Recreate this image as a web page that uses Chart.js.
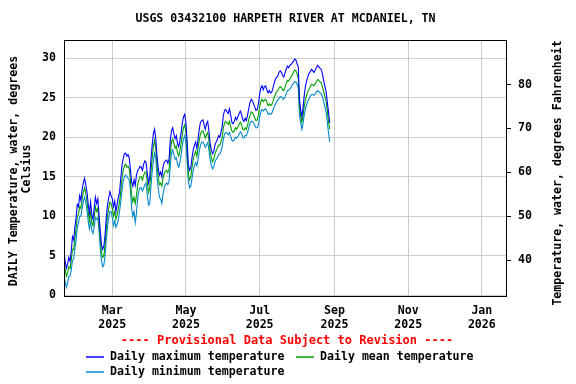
<!DOCTYPE html>
<html>
<head>
<meta charset="utf-8">
<script src="https://cdn.jsdelivr.net/npm/chart.js@4"></script>
<style>
  html, body { margin: 0; padding: 0; background: #fff; }
</style>
</head>
<body>
<canvas id="tempChart" width="576" height="384"></canvas>
<script>
// day numbers counted from 2025-01-01 (day 0)
const firstDay = 19; // 2025-01-20, first daily value
const tickDays = [59, 120, 181, 243, 304, 365];
const tickLabels = [['Mar', '2025'], ['May', '2025'], ['Jul', '2025'], ['Sep', '2025'], ['Nov', '2025'], ['Jan', '2026']];
const celsiusTicks = [0, 5, 10, 15, 20, 25, 30];
const fahrenheitTicks = [40, 50, 60, 70, 80];
const seriesColors = ['#0000ff', '#00a000', '#0088cc'];

// daily values, degrees Celsius, from 2025-01-20 to 2025-08-28
const maxTemp = [
	5.6, 4.2, 3.4, 4.0, 4.8, 4.3, 5.6, 7.4, 7.0, 8.6,
	9.8, 11.5, 11.2, 12.6, 12.0, 13.4, 14.2, 14.8, 14.0, 13.1,
	11.6, 10.4, 11.8, 10.2, 9.6, 11.0, 12.4, 11.6, 12.2, 10.1,
	8.2, 6.4, 5.8, 6.2, 7.6, 9.8, 11.4, 12.3, 13.1, 12.6,
	12.2, 11.2, 11.9, 10.6, 11.5, 12.4, 13.0, 14.8, 16.4, 17.3,
	17.9, 18.0, 17.6, 17.8, 17.4, 15.9, 14.3, 13.8, 14.6, 13.9,
	15.2, 15.8, 16.0, 16.3, 16.2, 15.8, 16.6, 17.0, 16.8, 15.4,
	14.2, 15.0, 17.2, 19.0, 20.4, 21.0, 19.8, 17.6, 16.1, 15.2,
	15.6, 15.0, 16.2, 16.8, 17.0, 17.1, 16.7, 17.2, 19.6, 20.8,
	21.2, 20.4, 19.8, 20.2, 19.2, 18.8, 19.6, 20.6, 21.8, 22.6,
	22.9, 21.8, 19.4, 16.4, 15.8, 16.2, 17.4, 18.4, 19.0, 19.4,
	18.6, 19.8, 21.0, 21.9, 22.1, 22.2, 21.6, 21.0, 21.7, 22.0,
	20.8, 19.2, 18.4, 17.9, 18.2, 19.0, 19.4, 19.7, 20.2, 20.0,
	20.6, 21.4, 22.8, 23.4, 23.5, 23.2, 23.0, 23.6, 22.8, 21.9,
	21.7, 22.0, 22.5, 22.2, 22.6, 23.0, 23.3, 22.9, 22.2, 22.0,
	22.4, 22.1, 22.8, 23.6, 24.4, 24.8, 24.6, 24.2, 23.8, 23.4,
	23.5, 24.2, 25.4, 26.2, 26.5, 26.0, 26.4, 26.5, 26.0, 25.6,
	25.9, 25.6, 25.7, 26.2, 26.8, 27.3, 27.6, 27.7, 28.2, 28.4,
	28.2, 27.8, 27.6, 28.1, 28.6, 29.0, 28.8, 29.1, 29.2, 29.4,
	29.6, 29.9, 29.8, 29.3, 28.9, 24.8, 23.4, 22.6, 23.8, 25.4,
	26.5, 27.2, 27.7, 28.1, 28.3, 28.6, 28.4, 28.2, 28.5, 28.8,
	29.1, 28.9, 28.7, 28.6, 28.0, 27.2, 26.5, 25.8, 24.5, 23.2,
	21.8
];
const meanTemp = [
	4.0, 3.2, 2.4, 2.8, 3.6, 3.4, 4.4, 5.8, 5.8, 7.2,
	8.4, 10.0, 10.2, 11.2, 11.0, 12.2, 13.0, 13.6, 13.0, 12.0,
	10.6, 9.4, 10.4, 9.2, 8.8, 9.8, 11.2, 10.6, 11.0, 9.2,
	7.2, 5.4, 4.8, 5.0, 6.4, 8.4, 10.0, 11.0, 11.8, 11.6,
	11.0, 10.0, 10.6, 9.6, 10.2, 11.0, 11.8, 13.2, 14.8, 15.8,
	16.4, 16.6, 16.2, 16.3, 16.0, 14.6, 12.6, 11.8, 12.4, 11.6,
	12.6, 14.0, 14.6, 15.0, 15.0, 14.6, 15.2, 15.6, 15.6, 14.2,
	13.0, 13.6, 15.6, 17.4, 18.8, 19.6, 18.6, 16.4, 15.0, 14.0,
	14.2, 13.8, 14.8, 15.4, 15.7, 15.8, 15.5, 15.9, 18.0, 19.4,
	19.8, 19.2, 18.6, 18.9, 18.0, 17.6, 18.3, 19.2, 20.4, 21.2,
	21.6, 20.6, 18.2, 15.2, 14.6, 15.0, 16.2, 17.2, 17.8, 18.2,
	17.6, 18.6, 19.6, 20.4, 20.7, 20.8, 20.4, 19.9, 20.3, 20.6,
	19.6, 18.2, 17.4, 16.9, 17.2, 17.9, 18.3, 18.6, 19.0, 19.0,
	19.4, 20.0, 21.2, 21.8, 22.0, 21.8, 21.6, 22.0, 21.4, 20.8,
	20.6, 20.8, 21.2, 21.0, 21.3, 21.6, 21.9, 21.6, 21.0, 20.9,
	21.2, 21.0, 21.5, 22.2, 22.8, 23.2, 23.1, 22.8, 22.4, 22.1,
	22.2, 22.8, 23.8, 24.5, 24.8, 24.5, 24.7, 24.8, 24.4, 24.0,
	24.2, 24.0, 24.1, 24.5, 25.0, 25.4, 25.7, 25.9, 26.2, 26.4,
	26.3, 26.0, 25.9, 26.3, 26.8, 27.2, 27.1, 27.4, 27.6, 27.9,
	28.2, 28.5, 28.4, 28.0, 27.4, 23.8, 22.6, 21.9, 22.8, 24.0,
	24.8, 25.4, 25.8, 26.1, 26.4, 26.7, 26.6, 26.5, 26.8, 27.0,
	27.3, 27.2, 27.0, 26.9, 26.4, 25.8, 25.2, 24.6, 23.4, 22.0,
	21.0
];
const minTemp = [
	2.6, 1.6, 1.0, 1.6, 2.4, 2.4, 3.2, 4.4, 4.6, 5.8,
	7.0, 8.6, 9.2, 10.0, 10.0, 11.0, 11.8, 12.4, 11.8, 10.8,
	9.4, 8.4, 9.2, 8.2, 7.8, 8.6, 9.8, 9.6, 9.8, 8.2,
	6.0, 4.4, 3.6, 3.8, 5.0, 7.0, 8.6, 9.8, 10.6, 10.6,
	9.8, 8.8, 9.4, 8.6, 9.0, 9.6, 10.6, 11.8, 13.2, 14.4,
	15.0, 15.2, 15.0, 14.8, 14.6, 13.4, 11.0, 10.0, 10.6, 9.2,
	10.4, 12.2, 13.2, 13.6, 13.6, 13.2, 13.6, 14.0, 14.2, 12.6,
	11.4, 11.6, 13.8, 15.6, 17.0, 18.0, 17.4, 15.0, 13.6, 12.4,
	12.2, 11.6, 12.8, 13.6, 14.0, 14.2, 14.0, 14.4, 16.4, 18.0,
	18.4, 17.8, 17.2, 17.4, 16.6, 16.2, 16.8, 17.8, 19.0, 19.8,
	20.2, 19.2, 16.8, 14.4, 13.6, 13.8, 14.8, 15.8, 16.4, 16.8,
	16.4, 17.2, 18.2, 19.0, 19.4, 19.4, 19.1, 18.7, 19.0, 19.3,
	18.4, 17.2, 16.4, 16.0, 16.2, 16.9, 17.2, 17.4, 17.8, 17.9,
	18.2, 18.8, 19.8, 20.4, 20.6, 20.5, 20.3, 20.6, 20.1, 19.6,
	19.5, 19.7, 20.0, 19.9, 20.1, 20.4, 20.7, 20.5, 20.0, 19.9,
	20.2, 20.2, 20.6, 21.2, 21.7, 22.0, 22.0, 21.8, 21.5, 21.2,
	21.2, 21.6, 22.5, 23.2, 23.5, 23.3, 23.5, 23.6, 23.3, 22.9,
	23.0, 22.9, 23.0, 23.4, 23.8, 24.2, 24.5, 24.7, 24.9, 25.1,
	25.1, 24.9, 24.8, 25.1, 25.5, 25.9, 25.9, 26.1, 26.3, 26.6,
	26.8, 27.0, 27.0, 26.7, 26.2, 22.8, 21.8, 21.0, 21.8, 22.9,
	23.6, 24.2, 24.6, 24.9, 25.2, 25.4, 25.4, 25.3, 25.5, 25.7,
	25.9, 25.8, 25.6, 25.5, 25.1, 24.5, 23.9, 23.2, 22.0, 20.6,
	19.4
];

const cMin = -0.1;
const cMax = 32.3;
const toF = c => c * 1.8 + 32;
const FONT = '"DejaVu Sans Mono", "Liberation Mono", monospace';

function toPoints(values) {
	return values.map((v, i) => ({ x: firstDay + i, y: v }));
}

// 제목, 축 제목, 범례, 테두리 그리기
const decorations = {
	id: 'decorations',
	afterDraw(chart) {
		const ctx = chart.ctx;
		const area = chart.chartArea;
		ctx.save();

		// 테두리
		ctx.strokeStyle = '#000';
		ctx.lineWidth = 1;
		ctx.strokeRect(area.left + 0.5, area.top + 0.5, area.right - area.left, area.bottom - area.top);

		ctx.fillStyle = '#000';
		ctx.font = `bold 11.6px ${FONT}`;
		ctx.textAlign = 'center';
		ctx.textBaseline = 'middle';
		ctx.fillText('USGS 03432100 HARPETH RIVER AT MCDANIEL, TN', 285.5, 19);

		// 왼쪽 축 제목
		ctx.save();
		ctx.translate(14, 171);
		ctx.rotate(-Math.PI / 2);
		ctx.fillText('DAILY Temperature, water, degrees', 0, 0);
		ctx.restore();
		ctx.save();
		ctx.translate(27, 169);
		ctx.rotate(-Math.PI / 2);
		ctx.fillText('Celsius', 0, 0);
		ctx.restore();

		// 오른쪽 축 제목
		ctx.save();
		ctx.translate(558, 173);
		ctx.rotate(-Math.PI / 2);
		ctx.fillText('Temperature, water, degrees Fahrenheit', 0, 0);
		ctx.restore();

		// 잠정 자료 안내
		ctx.fillStyle = '#ff0000';
		ctx.font = `bold 12px ${FONT}`;
		ctx.fillText('---- Provisional Data Subject to Revision ----', 287, 341);

		// 범례
		const legendItems = [
			{ label: 'Daily maximum temperature', color: seriesColors[0], x: 86, y: 357 },
			{ label: 'Daily mean temperature', color: seriesColors[1], x: 296, y: 357 },
			{ label: 'Daily minimum temperature', color: seriesColors[2], x: 86, y: 372 }
		];
		ctx.font = `bold 11.6px ${FONT}`;
		ctx.textAlign = 'left';
		legendItems.forEach(item => {
			ctx.strokeStyle = item.color;
			ctx.lineWidth = 1.5;
			ctx.beginPath();
			ctx.moveTo(item.x, item.y);
			ctx.lineTo(item.x + 18, item.y);
			ctx.stroke();
			ctx.fillStyle = '#000';
			ctx.fillText(item.label, item.x + 24, item.y);
		});

		ctx.restore();
	}
};

new Chart(document.getElementById('tempChart').getContext('2d'), {
	type: 'line',
	data: {
		datasets: [
			{
				label: 'Daily maximum temperature',
				data: toPoints(maxTemp),
				borderColor: seriesColors[0],
				borderWidth: 1.1,
				pointRadius: 0,
				tension: 0
			},
			{
				label: 'Daily mean temperature',
				data: toPoints(meanTemp),
				borderColor: seriesColors[1],
				borderWidth: 1.1,
				pointRadius: 0,
				tension: 0
			},
			{
				label: 'Daily minimum temperature',
				data: toPoints(minTemp),
				borderColor: seriesColors[2],
				borderWidth: 1.1,
				pointRadius: 0,
				tension: 0
			}
		]
	},
	options: {
		responsive: false,
		animation: false,
		layout: { padding: { top: 40, left: 0, right: 0, bottom: 0 } },
		plugins: {
			legend: { display: false },
			title: { display: false },
			tooltip: { enabled: false }
		},
		scales: {
			x: {
				type: 'linear',
				position: 'bottom',
				min: firstDay,
				max: 385,
				afterFit: s => { s.height = 88; },
				afterBuildTicks: s => { s.ticks = tickDays.map(v => ({ value: v })); },
				grid: { color: '#cccccc', drawTicks: false },
				border: { display: false },
				ticks: {
					autoSkip: false,
					maxRotation: 0,
					padding: 8,
					color: '#000',
					font: { family: FONT, size: 11.6, weight: 'bold' },
					callback: (v, idx) => tickLabels[idx]
				}
			},
			y: {
				position: 'left',
				min: cMin,
				max: cMax,
				afterFit: s => { s.width = 64; },
				afterBuildTicks: s => { s.ticks = celsiusTicks.map(v => ({ value: v })); },
				grid: { color: '#cccccc', drawTicks: false },
				border: { display: false },
				ticks: {
					padding: 8,
					color: '#000',
					font: { family: FONT, size: 11.6, weight: 'bold' }
				}
			},
			y2: {
				position: 'right',
				min: toF(cMin),
				max: toF(cMax),
				afterFit: s => { s.width = 70; },
				afterBuildTicks: s => { s.ticks = fahrenheitTicks.map(v => ({ value: v })); },
				grid: { drawOnChartArea: false, drawTicks: true, tickLength: 5, color: '#000' },
				border: { display: false },
				ticks: {
					padding: 7,
					color: '#000',
					font: { family: FONT, size: 11.6, weight: 'bold' }
				}
			}
		}
	},
	plugins: [decorations]
});
</script>
</body>
</html>
